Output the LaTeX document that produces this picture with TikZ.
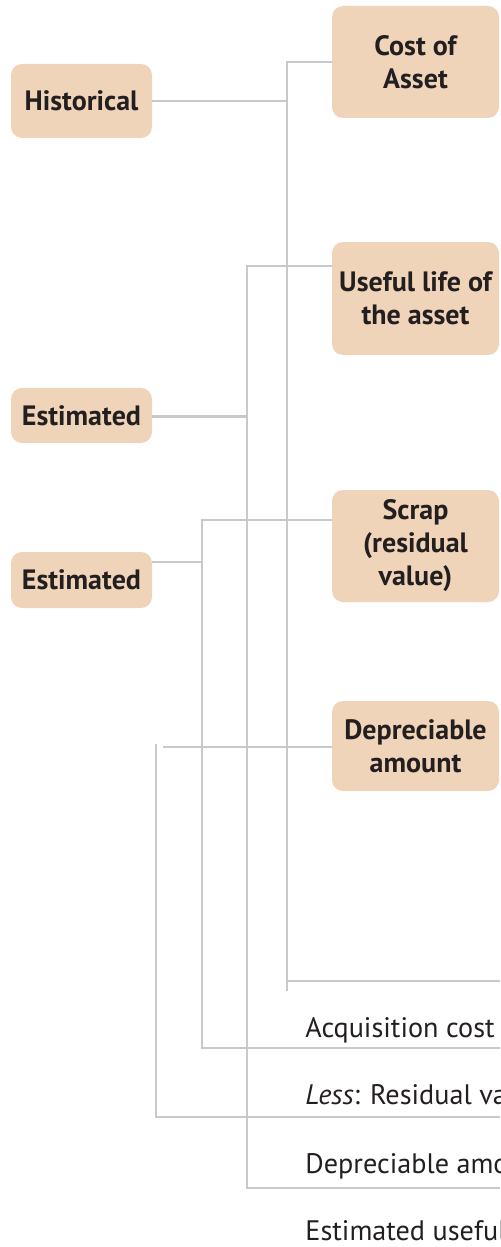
\documentclass[tikz,border=0pt]{standalone}
\usepackage{fontspec}
\setmainfont{PT Sans}
\definecolor{boxfill}{HTML}{EFD4B9}
\definecolor{linecol}{HTML}{C8C9CB}
\definecolor{txt}{HTML}{231F20}
\tikzset{
  pill/.style={fill=boxfill, rounded corners=5.5pt, inner sep=0pt, text=txt,
    font=\fontsize{14pt}{16.5pt}\selectfont\bfseries, align=center},
  leftpill/.style={pill, minimum width=70.5pt},
  rightpill/.style={pill, minimum width=83.5pt},
  conn/.style={draw=linecol, line width=1.1pt},
  rowtext/.style={anchor=base west, inner sep=0pt, text=txt,
    font=\fontsize{14.1pt}{16pt}\selectfont}
}
\begin{document}
\begin{tikzpicture}[x=0.5pt,y=-0.5pt]
\useasboundingbox (0,0) rectangle (500,1247);
\clip (0,0) rectangle (500,1247);
% left boxes
\node[leftpill, minimum height=37pt] (hist) at (81.5,101) {Historical};
\node[leftpill, minimum height=27.5pt] (est1) at (81.5,415.5) {Estimated};
\node[leftpill, minimum height=28pt] (est2) at (81.5,580) {Estimated};
% right boxes
\node[rightpill, minimum height=56pt] (cost) at (415.5,62) {Cost of\\Asset};
\node[rightpill, minimum height=56.5pt] (life) at (415.5,298.5) {Useful life of\\the asset};
\node[rightpill, minimum height=56pt] (scrap) at (415.5,546) {Scrap\\(residual\\value)};
\node[rightpill, minimum height=45pt] (dep) at (415.5,746) {Depreciable\\amount};
% rows of the table
\node[rowtext] (acq) at (305,1037) {Acquisition cost};
\node[rowtext] (less) at (305,1104) {\textit{Less}: Residual value};
\node[rowtext] (depam) at (305,1173) {Depreciable amount};
\node[rowtext] (estlife) at (305,1240) {Estimated useful life};
% connector coordinates
\coordinate (a1) at (287,62);  \coordinate (a2) at (287,991);  \coordinate (a3) at (500,981);
\coordinate (b1) at (247,266); \coordinate (b2) at (247,1188); \coordinate (b3) at (500,1188);
\coordinate (c1) at (202,520); \coordinate (c2) at (202,1048); \coordinate (c3) at (500,1048);
\coordinate (d1) at (156,744); \coordinate (d2) at (156,1117); \coordinate (d3) at (500,1117);
\coordinate (d4) at (163,747);
% group 1: cost of asset
\draw[conn] (cost.west |- a1) -- (a1) -- (a2);
\draw[conn] (hist.east) -- (hist.east -| a1);
\draw[conn] (a1 |- a3) -- (a3);
% group 2: useful life
\draw[conn] (life.west |- b1) -- (b1) -- (b2) -- (b3);
\draw[conn] (est1.east |- 0,416.5) -- (b1 |- 0,416.5);
% group 3: scrap
\draw[conn] (scrap.west |- c1) -- (c1) -- (c2) -- (c3);
\draw[conn] (est2.east |- 0,562) -- (c1 |- 0,562);
% group 4: depreciable amount
\draw[conn] (dep.west |- d4) -- (d4);
\draw[conn] (d1) -- (d2) -- (d3);
\end{tikzpicture}
\end{document}
